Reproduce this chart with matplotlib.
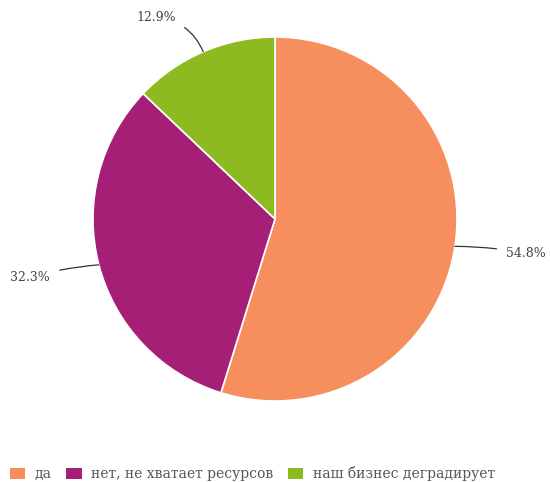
import matplotlib.pyplot as plt
import numpy as np
from matplotlib.patches import Patch

labels = ["да", "нет, не хватает ресурсов", "наш бизнес деградирует"]
values = [54.8, 32.3, 12.9]
colors = ["#f68e5e", "#a51f77", "#8db921"]
pct_text = ["54.8%", "32.3%", "12.9%"]

fig = plt.figure(figsize=(5.5, 4.82), dpi=100)
fig.patch.set_facecolor("white")

# pie centred at (275, 219) px, radius ~182 px
cx, cy, r = 275 / 550, 1 - 219 / 482, 182
w, h = 2 * r / 550, 2 * r / 482
ax = fig.add_axes([cx - w / 2, cy - h / 2, w, h])

wedges, _ = ax.pie(values, colors=colors, startangle=90, counterclock=False,
                   radius=1.0, wedgeprops=dict(edgecolor="white", linewidth=1.2))
ax.set_xlim(-1, 1)
ax.set_ylim(-1, 1)
ax.set_aspect("equal")

# label positions (axis coords, relative to pie radius)
label_pos = [(1.27, -0.19), (-1.235, -0.32), (-0.545, 1.105)]
rads = [0.05, -0.05, -0.3]
for wdg, txt, pos, rad in zip(wedges, pct_text, label_pos, rads):
    ang = np.deg2rad((wdg.theta1 + wdg.theta2) / 2)
    edge = (np.cos(ang), np.sin(ang))
    ha = "left" if pos[0] > 0 else "right"
    ax.annotate(txt, xy=edge, xytext=pos, ha=ha, va="center",
                fontsize=9, family="DejaVu Serif", color="#444444",
                arrowprops=dict(arrowstyle="-", color="#333333", lw=0.9,
                                shrinkA=5, shrinkB=0,
                                connectionstyle=f"arc3,rad={rad}"),
                annotation_clip=False)

handles = [Patch(facecolor=c, edgecolor="none", label=l) for c, l in zip(colors, labels)]
leg = fig.legend(handles=handles, loc="lower left", bbox_to_anchor=(-0.005, -0.024),
                 ncol=3, frameon=False, handlelength=1.1, handleheight=0.9,
                 handletextpad=0.7, columnspacing=1.05,
                 prop=dict(family="DejaVu Serif", size=10))
for t in leg.get_texts():
    t.set_color("#555555")

fig.savefig("out.png", dpi=100)
